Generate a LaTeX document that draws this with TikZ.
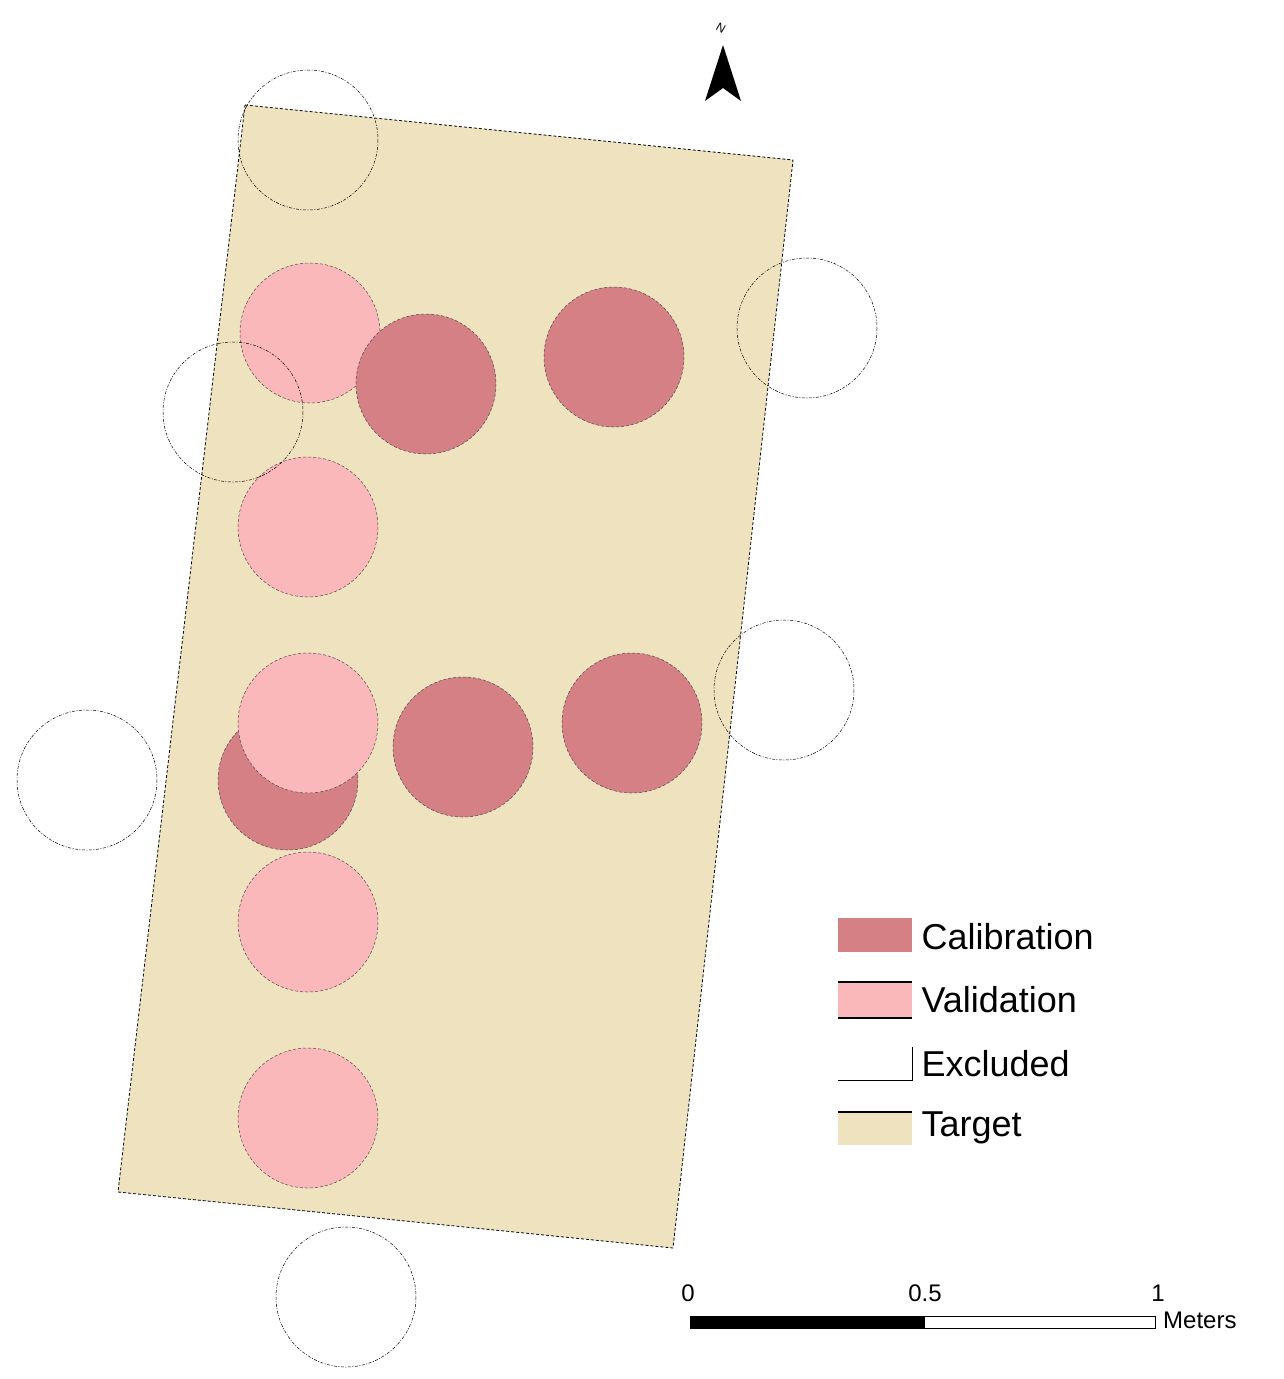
\documentclass[tikz,border=0pt]{standalone}
\usepackage{fontspec}
\setmainfont{Liberation Sans}
\begin{document}
\begin{tikzpicture}[x=1pt,y=-1pt,
  cal/.style={fill=calc,draw=black!70,line width=0.5pt,densely dashed},
  val/.style={fill=valc,draw=black!70,line width=0.5pt,densely dashed},
  exc/.style={draw=black,line width=0.5pt,dash pattern=on 3pt off 1.5pt on 1pt off 1.5pt},
  leg/.style={font=\fontsize{36}{40}\selectfont,anchor=west},
  sc/.style={font=\fontsize{24}{26}\selectfont}]
\definecolor{calc}{HTML}{D48085}
\definecolor{valc}{HTML}{FBB8BA}
\definecolor{tgt}{HTML}{EEE2BF}
\useasboundingbox (0,0) rectangle (1284,1379);
\fill[white] (0,0) rectangle (1284,1379);
% target
\draw[fill=tgt,densely dashed,line width=0.8pt] (245,105) coordinate (t1) -- (793,160) coordinate (t2) -- (673,1248) coordinate (t3) -- (118,1192) coordinate (t4) -- cycle;
% samples
\draw[cal] (288,780) circle (70);
\foreach \p in {(310,333),(308,527),(308,723),(308,922),(308,1118)} \draw[val] \p circle (70);
\foreach \p in {(426,384),(614,357),(463,747),(632,723)} \draw[cal] \p circle (70);
\foreach \p in {(308,140),(807,328),(233,412),(784,690),(87,780),(346,1297)} \draw[exc] \p circle (70);
% north arrow
\fill (723,45) -- (741,101) -- (723,88) -- (705,101) -- cycle;
\node[rotate=-30,font=\fontsize{12}{12}\selectfont] (n) at (721,28) {N};
% legend
\fill[calc] (838,918) rectangle (912,952);
\draw[fill=valc,line width=1.2pt] (838,982) -- (912,982) (838,1018) -- (912,1018);
\fill[valc] (838,983) rectangle (912,1017);
\draw[line width=1.2pt] (838,982) -- (912,982) (838,1018) -- (912,1018);
\draw[line width=0.6pt] (838,1080) -- (912,1080) -- (912,1047);
\fill[tgt] (838,1112) rectangle (912,1145);
\draw[line width=1.2pt] (838,1112) -- (912,1112);
\node[leg] (l1) at (918,937) {Calibration};
\node[leg] (l2) at (918,1000) {Validation};
\node[leg] (l3) at (918,1064) {Excluded};
\node[leg] (l4) at (918,1128) {Target};
% scale bar
\fill (690,1316) rectangle (925,1328);
\draw[line width=0.6pt] (690,1316) rectangle (1155,1328);
\node[sc] (s0) at (688,1293) {0};
\node[sc] (s1) at (925,1293) {0.5};
\node[sc] (s2) at (1158,1293) {1};
\node[sc,anchor=west,inner sep=0] (sm) at (1163,1320) {Meters};
\end{tikzpicture}
\end{document}
